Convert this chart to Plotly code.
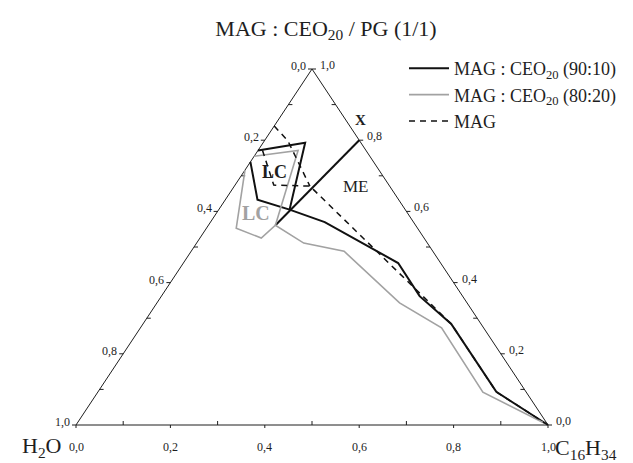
import plotly.graph_objects as go

# ---------------- data (ternary fractions) ----------------
# c = C16H34 fraction, s = MAG:CEO20/PG (1/1) fraction, H2O = 1 - c - s
# None breaks the polyline
c_9010 = [1.000, 0.844, 0.653, 0.547, 0.455, 0.242, 0.150, 0.068, 0.000, None, 0.000, 0.089, 0.150, None, 0.142, 0.200]
s_9010 = [0.000, 0.093, 0.284, 0.362, 0.455, 0.570, 0.605, 0.633, 0.739, None, 0.771, 0.793, 0.605, None, 0.561, 0.800]

c_8020 = [1.000, 0.816, 0.638, 0.514, 0.324, 0.227, 0.142, 0.130, 0.063, 0.000, None, 0.000, 0.085, 0.142]
s_8020 = [0.000, 0.092, 0.273, 0.343, 0.488, 0.511, 0.561, 0.525, 0.553, 0.716, None, 0.755, 0.771, 0.561]

c_mag = [1.000, 0.844, 0.653, 0.160, 0.082, 0.000, None, 0.000, 0.050, 0.160]
s_mag = [0.000, 0.093, 0.284, 0.671, 0.674, 0.784, None, 0.840, 0.798, 0.671]

series_names = ["MAG : CEO<sub>20</sub> (90:10)", "MAG : CEO<sub>20</sub> (80:20)", "MAG"]
tick_vals = [0.0, 0.2, 0.4, 0.6, 0.8, 1.0]
tick_text = ["0,0", "0,2", "0,4", "0,6", "0,8", "1,0"]
minor_vals = [0.1, 0.3, 0.5, 0.7, 0.9]
title_text = "MAG : CEO<sub>20</sub> / PG (1/1)"

# ---------------- geometry ----------------
W, H = 633, 463
X0, XW = 68, 472      # pixel left vertex, triangle width
Y0, YH = 417, 356     # pixel baseline, triangle height
FONT = "Liberation Serif"
INK = "#1e1e1e"
GRAY = "#a2a2a2"


def to_xy(cs, ss):
    xs, ys = [], []
    for c, s in zip(cs, ss):
        if c is None:
            xs.append(None); ys.append(None)
        else:
            xs.append(c + 0.5 * s); ys.append(s)
    return xs, ys


def paper(px, py):
    return px / W, 1 - py / H


fig = go.Figure()

# triangle frame
fx, fy = to_xy([0, 1, 0, 0], [0, 0, 1, 0])
fig.add_trace(go.Scatter(x=fx, y=fy, mode="lines", line=dict(color=INK, width=1),
                         showlegend=False, hoverinfo="skip", cliponaxis=False))

# ticks
dx = 1.0 / XW
dy = 1.0 / YH
tx, ty = [], []
for v in tick_vals + minor_vals:
    major = v in tick_vals
    bx, by = to_xy([v], [0])
    L = 3 if major else 4
    sgn = -1 if major else 1
    tx += [bx[0], bx[0], None]; ty += [by[0], by[0] + sgn * L * dy, None]
    lx, ly = to_xy([0], [1 - v])
    sgn = -1 if major else 1
    tx += [lx[0], lx[0] + sgn * 4 * dx, None]; ty += [ly[0], ly[0], None]
    rx, ry = to_xy([1 - v], [v])
    sgn = 1 if major else -1
    tx += [rx[0], rx[0] + sgn * 4 * dx, None]; ty += [ry[0], ry[0], None]
fig.add_trace(go.Scatter(x=tx, y=ty, mode="lines", line=dict(color=INK, width=1),
                         showlegend=False, hoverinfo="skip", cliponaxis=False))

# data series
x1, y1 = to_xy(c_9010, s_9010)
x2, y2 = to_xy(c_8020, s_8020)
x3, y3 = to_xy(c_mag, s_mag)
fig.add_trace(go.Scatter(x=x1, y=y1, mode="lines", name=series_names[0],
                         line=dict(color="#111111", width=2), cliponaxis=False))
fig.add_trace(go.Scatter(x=x2, y=y2, mode="lines", name=series_names[1],
                         line=dict(color=GRAY, width=1.6), cliponaxis=False))
fig.add_trace(go.Scatter(x=x3, y=y3, mode="lines", name=series_names[2],
                         line=dict(color="#111111", width=1.5, dash="6px,5px"), cliponaxis=False))

ann = []
for v, t in zip(tick_vals, tick_text):
    bx, by = to_xy([v], [0])
    ann.append(dict(x=bx[0], y=by[0], text=t, xanchor="center", yanchor="middle",
                    yshift=-22, showarrow=False, font=dict(family=FONT, size=12, color=INK)))
    lx, ly = to_xy([0], [1 - v])
    ann.append(dict(x=lx[0], y=ly[0], text=t, xanchor="right", yanchor="middle",
                    xshift=-4, yshift=3, showarrow=False, font=dict(family=FONT, size=12, color=INK)))
    rx, ry = to_xy([1 - v], [v])
    ann.append(dict(x=rx[0], y=ry[0], text=t, xanchor="left", yanchor="middle",
                    xshift=6, yshift=4, showarrow=False, font=dict(family=FONT, size=12, color=INK)))


def lab(px, py, text, size, color=INK, bold=False, xanchor="center"):
    x, y = paper(px, py)
    if bold:
        text = "<b>" + text + "</b>"
    ann.append(dict(x=x, y=y, xref="paper", yref="paper", text=text, showarrow=False,
                    xanchor=xanchor, yanchor="middle", font=dict(family=FONT, size=size, color=color)))

lab(33, 439, "H<sub>2</sub>O", 22)
lab(578, 441, "C<sub>16</sub>H<sub>34</sub>", 22)
lab(353, 112, "X", 15, bold=True)
lab(348, 179, "ME", 17)
lab(266, 164, "LC", 18, bold=True)
lab(248, 205, "LC", 20, color=GRAY, bold=True)

fig.update_layout(
    width=W, height=H,
    margin=dict(l=0, r=0, t=0, b=0),
    paper_bgcolor="white", plot_bgcolor="white",
    xaxis=dict(range=[-X0 / XW, (W - X0) / XW], visible=False, fixedrange=True),
    yaxis=dict(range=[(Y0 - H) / YH, Y0 / YH], visible=False, fixedrange=True),
    title=dict(text=title_text, x=318 / W, xanchor="center", y=1 - 20 / H, yanchor="middle",
               font=dict(family=FONT, size=22, color=INK)),
    legend=dict(x=396 / W, y=1 - 42 / H, xanchor="left", yanchor="top",
                bgcolor="rgba(0,0,0,0)", font=dict(family=FONT, size=18, color=INK),
                tracegroupgap=0, itemwidth=40),
    annotations=ann,
    showlegend=True,
)

fig.write_html("out.html")
